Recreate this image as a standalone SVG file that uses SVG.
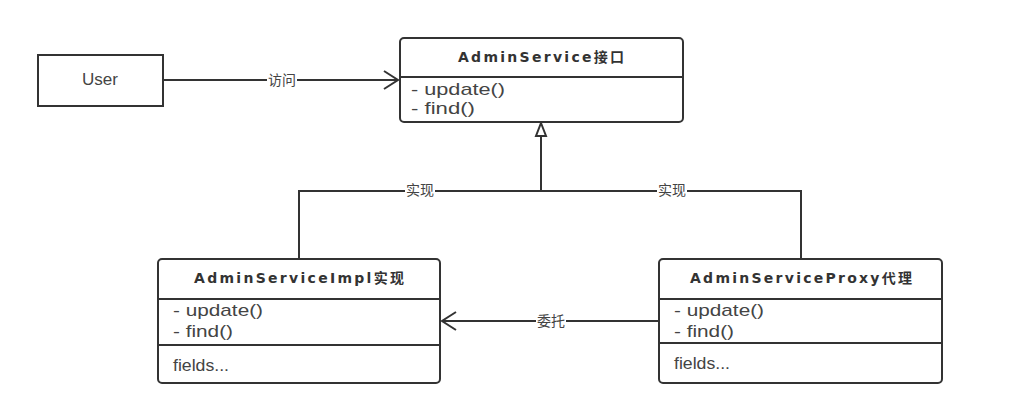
<svg xmlns="http://www.w3.org/2000/svg" width="1018" height="414" viewBox="0 0 1018 414">
<defs>
<style>
.box{fill:#fff;stroke:#333;stroke-width:2}
.div{stroke:#333;stroke-width:2}
.title{font-family:"DejaVu Sans","Noto Sans CJK SC",sans-serif;font-weight:bold;font-size:14px;fill:#333;text-anchor:middle;dominant-baseline:central}
.mem{font-family:"Liberation Sans","Noto Sans CJK SC",sans-serif;font-size:17px;fill:#444;dominant-baseline:central}
.lbl{font-family:"Liberation Sans","Noto Sans CJK SC",sans-serif;font-size:14px;fill:#444;text-anchor:middle;dominant-baseline:central}
.conn{fill:none;stroke:#333;stroke-width:2}
</style>
<marker id="open" markerWidth="20" markerHeight="20" refX="18" refY="10" orient="auto" markerUnits="userSpaceOnUse">
<path d="M4,1 L18,10 L4,19" fill="none" stroke="#333" stroke-width="2"/>
</marker>
</defs>
<rect width="1018" height="414" fill="#fff"/>
<g id="connectors">
<path class="conn" d="M163,80 L398,80" marker-end="url(#open)"/>
<rect x="267" y="71" width="30" height="18" fill="#fff"/>
<text class="lbl" x="282" y="80">访问</text>
<path class="conn" d="M541,136 L541,191 M299,258 L299,191 L801,191 L801,258"/>
<path d="M541,123 L546,136 L536,136 Z" fill="#fff" stroke="#333" stroke-width="2"/>
<rect x="405" y="182" width="30" height="18" fill="#fff"/>
<text class="lbl" x="420" y="190">实现</text>
<rect x="657" y="182" width="30" height="18" fill="#fff"/>
<text class="lbl" x="672" y="190">实现</text>
<path class="conn" d="M659,321 L442,321" marker-end="url(#open)"/>
<rect x="536" y="312" width="30" height="18" fill="#fff"/>
<text class="lbl" x="551" y="321">委托</text>
</g>
<g id="user">
<rect class="box" x="38" y="55" width="125" height="51"/>
<text class="lbl" x="100" y="79" style="font-size:16px" textLength="36" lengthAdjust="spacingAndGlyphs">User</text>
</g>
<g id="adminService">
<rect class="box" x="400" y="38" width="283" height="84" rx="4"/>
<line class="div" x1="400" y1="77" x2="683" y2="77"/>
<text class="title" x="541" y="57" textLength="166" lengthAdjust="spacing">AdminService接口</text>
<text class="mem" x="411" y="89" textLength="94" lengthAdjust="spacingAndGlyphs">-  update()</text>
<text class="mem" x="411" y="108" textLength="64" lengthAdjust="spacingAndGlyphs">-  find()</text>
</g>
<g id="adminServiceImpl">
<rect class="box" x="158" y="259" width="282" height="124" rx="4"/>
<line class="div" x1="158" y1="299" x2="440" y2="299"/>
<line class="div" x1="158" y1="345" x2="440" y2="345"/>
<text class="title" x="299" y="278" textLength="210" lengthAdjust="spacing">AdminServiceImpl实现</text>
<text class="mem" x="173" y="310" textLength="90" lengthAdjust="spacingAndGlyphs">-  update()</text>
<text class="mem" x="173" y="331" textLength="60" lengthAdjust="spacingAndGlyphs">-  find()</text>
<text class="mem" x="173" y="365" textLength="56" lengthAdjust="spacingAndGlyphs">fields...</text>
</g>
<g id="adminServiceProxy">
<rect class="box" x="659" y="259" width="283" height="124" rx="4"/>
<line class="div" x1="659" y1="299" x2="942" y2="299"/>
<line class="div" x1="659" y1="343" x2="942" y2="343"/>
<text class="title" x="801" y="278" textLength="222" lengthAdjust="spacing">AdminServiceProxy代理</text>
<text class="mem" x="674" y="310" textLength="90" lengthAdjust="spacingAndGlyphs">-  update()</text>
<text class="mem" x="674" y="331" textLength="60" lengthAdjust="spacingAndGlyphs">-  find()</text>
<text class="mem" x="674" y="363" textLength="56" lengthAdjust="spacingAndGlyphs">fields...</text>
</g>
</svg>
